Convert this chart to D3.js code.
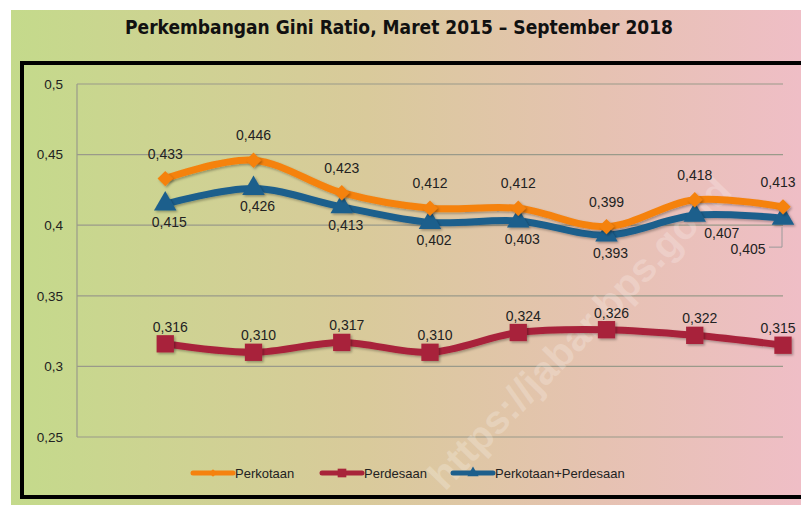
<!DOCTYPE html>
<html>
<head>
<meta charset="utf-8">
<script src="https://cdn.jsdelivr.net/npm/d3@7"></script>
<style>
  body { margin: 0; background: #fff; }
  text { font-family: "Liberation Sans", Arial, sans-serif; }
</style>
</head>
<body>
<div id="chart"></div>
<script>
var categories = ["Mar 2015", "Sep 2015", "Mar 2016", "Sep 2016", "Mar 2017", "Sep 2017", "Mar 2018", "Sep 2018"];
var perkotaan = [0.433, 0.446, 0.423, 0.412, 0.412, 0.399, 0.418, 0.413];
var perdesaan = [0.316, 0.310, 0.317, 0.310, 0.324, 0.326, 0.322, 0.315];
var gabungan = [0.415, 0.426, 0.413, 0.402, 0.403, 0.393, 0.407, 0.405];
var yTicks = [0.25, 0.3, 0.35, 0.4, 0.45, 0.5];
var seriesNames = ["Perkotaan", "Perdesaan", "Perkotaan+Perdesaan"];

var width = 801, height = 505;
var svg = d3.select("#chart").append("svg").attr("width", width).attr("height", height);

var defs = svg.append("defs");
var grad = defs.append("linearGradient").attr("id", "bg").attr("x1", "0").attr("x2", "1").attr("y1", "0").attr("y2", "0");
grad.append("stop").attr("offset", "0%").attr("stop-color", "#c4da8b");
grad.append("stop").attr("offset", "45%").attr("stop-color", "#d9ca9b");
grad.append("stop").attr("offset", "75%").attr("stop-color", "#e6c2b2");
grad.append("stop").attr("offset", "100%").attr("stop-color", "#efbec6");

var shadow = defs.append("filter").attr("id", "shadow").attr("x", "-30%").attr("y", "-30%").attr("width", "170%").attr("height", "170%");
shadow.append("feDropShadow").attr("dx", 1.5).attr("dy", 1.5).attr("stdDeviation", 1.2).attr("flood-color", "#000").attr("flood-opacity", 0.3);

// slide background
svg.append("rect").attr("x", 11).attr("y", 10).attr("width", width - 11).attr("height", height - 10).attr("fill", "url(#bg)");

// title
svg.append("text")
  .attr("x", 399).attr("y", 34)
  .attr("text-anchor", "middle")
  .attr("textLength", 548).attr("lengthAdjust", "spacingAndGlyphs")
  .style("font-family", "'Liberation Sans Narrow', 'DejaVu Sans Condensed', sans-serif")
  .style("font-weight", "bold").style("font-size", "20px").attr("fill", "#111")
  .text("Perkembangan Gini Ratio, Maret 2015 \u2013 September 2018");

// chart frame
svg.append("rect").attr("x", 22).attr("y", 63).attr("width", 800).attr("height", 434)
  .attr("fill", "none").attr("stroke", "#000").attr("stroke-width", 4);

var x = d3.scaleLinear().domain([0, categories.length]).range([77, 783]);
var y = d3.scaleLinear().domain([0.25, 0.5]).range([437, 84]);
function px(i) { return x(i + 1); }

// gridlines
svg.append("g").selectAll("line").data(yTicks).enter().append("line")
  .attr("x1", x(0)).attr("x2", x(categories.length))
  .attr("y1", function (d) { return y(d); }).attr("y2", function (d) { return y(d); })
  .attr("stroke", "#9a9a8a").attr("stroke-width", 1.2);
svg.append("line").attr("x1", x(0)).attr("x2", x(0)).attr("y1", y(0.5)).attr("y2", y(0.25))
  .attr("stroke", "#9a9a8a").attr("stroke-width", 1.2);

// y axis labels
var yAxis = d3.axisLeft(y).tickValues(yTicks).tickSize(0).tickPadding(14)
  .tickFormat(function (d) { return String(d).replace(".", ","); });
var ya = svg.append("g").attr("transform", "translate(77,0)").call(yAxis);
ya.select(".domain").remove();
ya.selectAll("text").style("font-family", "'Liberation Sans', Arial, sans-serif").style("font-size", "13.5px").attr("fill", "#222");

// watermark
svg.append("text")
  .attr("transform", "translate(445,492) rotate(-46)")
  .style("font-size", "40px").style("font-weight", "bold")
  .attr("fill", "#ffffff").attr("fill-opacity", 0.22)
  .text("https://jabar.bps.go.id");

var line = d3.line()
  .x(function (d, i) { return px(i); })
  .y(function (d) { return y(d); })
  .curve(d3.curveCatmullRom.alpha(0.5));

var series = [
  { name: seriesNames[0], values: perkotaan, color: "#f5820f", shape: d3.symbolDiamond2, size: 150, dx: 0, dy: -20 },
  { name: seriesNames[1], values: perdesaan, color: "#a8243a", shape: d3.symbolSquare, size: 300, dx: 5, dy: -12 },
  { name: seriesNames[2], values: gabungan, color: "#1d5f8c", shape: d3.symbolTriangle, size: 220, dx: 4, dy: 23 }
];
var drawOrder = [series[1], series[2], series[0]];

drawOrder.forEach(function (s) {
  svg.append("path").datum(s.values)
    .attr("d", line).attr("fill", "none")
    .attr("stroke", s.color).attr("stroke-width", 7).attr("stroke-linejoin", "round")
    .attr("filter", "url(#shadow)");
  svg.append("g").selectAll("path").data(s.values).enter().append("path")
    .attr("d", d3.symbol().type(s.shape).size(s.size))
    .attr("transform", function (d, i) { return "translate(" + px(i) + "," + y(d) + ")"; })
    .attr("fill", s.color).attr("filter", "url(#shadow)");
});

// data labels
var last = categories.length - 1;
series.forEach(function (s, si) {
  svg.append("g").selectAll("text").data(s.values).enter().append("text")
    .attr("x", function (d, i) {
      var dx = s.dx;
      if (i === last && si !== 2) dx = -5;
      if (si === 2 && i === 6) dx = 27;
      if (si === 2 && i === last) dx = -35;
      return px(i) + dx;
    })
    .attr("y", function (d, i) {
      var dy = s.dy;
      if (si === 2 && i === last) dy = 36;
      return y(d) + dy;
    })
    .attr("text-anchor", "middle")
    .style("font-size", "14px").attr("fill", "#222")
    .text(function (d) { return d3.format(".3f")(d).replace(".", ","); });
});

// leader line for the last combined label
var lx = px(last), ly = y(gabungan[last]);
svg.append("path")
  .attr("d", "M" + (lx - 14) + "," + (ly + 29) + "H" + (lx - 1) + "V" + (ly + 9))
  .attr("fill", "none").attr("stroke", "#9a9a9a").attr("stroke-width", 1);

// legend
var legendX = [193, 322, 453];
series.forEach(function (s, i) {
  var g = svg.append("g").attr("transform", "translate(" + legendX[i] + ",473)");
  g.append("line").attr("x1", 0).attr("x2", 40).attr("stroke", s.color).attr("stroke-width", 5).attr("stroke-linecap", "round");
  g.append("path").attr("d", d3.symbol().type(s.shape).size(s.size / 4)).attr("transform", "translate(20,0)").attr("fill", s.color);
  g.append("text").attr("x", 42).attr("y", 5).style("font-size", "13px").attr("fill", "#222").text(s.name);
});
</script>
</body>
</html>
